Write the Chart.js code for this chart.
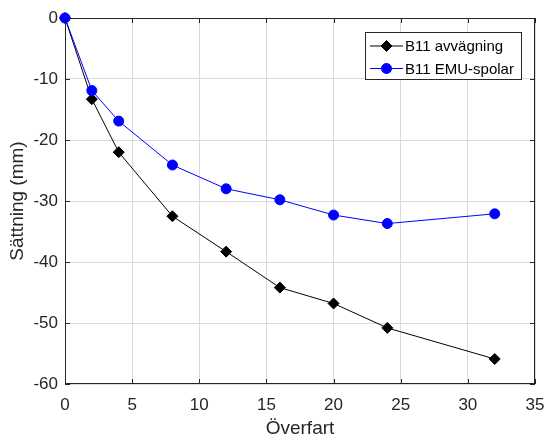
<!DOCTYPE html>
<html>
<head>
<meta charset="utf-8">
<script src="https://cdn.jsdelivr.net/npm/chart.js@4/dist/chart.umd.min.js"></script>
<style>
  html, body { margin: 0; padding: 0; background: #fff; }
  #wrap { width: 548px; height: 436px; }
</style>
</head>
<body>
<div id="wrap"><canvas id="chart" width="548" height="436"></canvas></div>
<script>
// overfart (x) and settlement in mm
const overfart = [0, 2, 4, 8, 12, 16, 20, 24, 32];
const avvagning = [0, -13.3, -22.0, -32.5, -38.3, -44.2, -46.8, -50.8, -55.9];
const emuSpolar = [0, -11.9, -16.9, -24.1, -28.0, -29.8, -32.3, -33.7, -32.1];
const xTicks = [0, 5, 10, 15, 20, 25, 30, 35];
const yTicks = [0, -10, -20, -30, -40, -50, -60];

const toPoints = (ys) => overfart.map((x, i) => ({ x: x, y: ys[i] }));

const axisColor = "#262626";
const FONT = "'Liberation Sans', Arial, sans-serif";

// MATLAB-like box with inward ticks + legend in the upper right
const boxPlugin = {
  id: "box",
  beforeDatasetsDraw(chart) {
    const { ctx, chartArea: a, scales } = chart;
    ctx.save();
    ctx.strokeStyle = axisColor;
    ctx.lineWidth = 1;
    ctx.strokeRect(a.left + 0.5, a.top + 0.5, a.right - a.left - 1, a.bottom - a.top - 1);
    const t = 5;
    ctx.beginPath();
    xTicks.forEach(v => {
      const px = Math.round(scales.x.getPixelForValue(v)) + 0.5;
      ctx.moveTo(px, a.bottom); ctx.lineTo(px, a.bottom - t);
      ctx.moveTo(px, a.top); ctx.lineTo(px, a.top + t);
    });
    yTicks.forEach(v => {
      const py = Math.round(scales.y.getPixelForValue(v)) + 0.5;
      ctx.moveTo(a.left, py); ctx.lineTo(a.left + t, py);
      ctx.moveTo(a.right, py); ctx.lineTo(a.right - t, py);
    });
    ctx.stroke();
    ctx.restore();
  },
  afterDraw(chart) {
    const { ctx } = chart;
    ctx.save();
    // legend
    const lx = 365, ly = 32, lw = 156, lh = 47;
    ctx.fillStyle = "#fff";
    ctx.fillRect(lx, ly, lw, lh);
    ctx.strokeStyle = "#262626";
    ctx.lineWidth = 1;
    ctx.strokeRect(lx + 0.5, ly + 0.5, lw, lh);
    ctx.font = "15px " + FONT;
    ctx.textBaseline = "middle";
    chart.data.datasets.forEach((ds, i) => {
      const cy = ly + 14 + i * 22.5;
      ctx.strokeStyle = ds.borderColor;
      ctx.lineWidth = 1;
      ctx.beginPath();
      ctx.moveTo(lx + 5, cy); ctx.lineTo(lx + 38, cy);
      ctx.stroke();
      ctx.fillStyle = ds.pointBackgroundColor;
      ctx.strokeStyle = ds.pointBorderColor;
      Chart.helpers.drawPoint(ctx, {
        pointStyle: ds.pointStyle, radius: ds.pointRadius, borderWidth: 1
      }, lx + 21.5, cy);
      ctx.fillStyle = "#000";
      ctx.fillText(ds.label, lx + 40, cy + 1);
    });
    ctx.restore();
  }
};

new Chart(document.getElementById("chart"), {
  type: "line",
  data: {
    datasets: [
      {
        label: "B11 avvägning",
        data: toPoints(avvagning),
        borderColor: "#000000",
        backgroundColor: "#000000",
        pointBackgroundColor: "#000000",
        pointBorderColor: "#000000",
        pointStyle: "rectRot",
        pointRadius: 5.5,
        borderWidth: 1,
        clip: false,
        order: 1,
        tension: 0
      },
      {
        label: "B11 EMU-spolar",
        data: toPoints(emuSpolar),
        borderColor: "#0000ff",
        backgroundColor: "#0000ff",
        pointBackgroundColor: "#0000ff",
        pointBorderColor: "#0000ff",
        pointStyle: "circle",
        pointRadius: 5,
        borderWidth: 1,
        clip: false,
        order: 0,
        tension: 0
      }
    ]
  },
  options: {
    responsive: false,
    animation: false,
    layout: { padding: { top: 18, right: 13, left: 0, bottom: 0 } },
    plugins: {
      legend: { display: false },
      tooltip: { enabled: false }
    },
    scales: {
      x: {
        type: "linear",
        min: 0, max: 35,
        afterBuildTicks: (s) => { s.ticks = xTicks.map(v => ({ value: v })); },
        afterFit: (s) => { s.height = 52; s.paddingLeft = 0; s.paddingRight = 0; },
        grid: { color: "#dadada", lineWidth: 1, drawTicks: false },
        border: { display: false },
        ticks: { color: axisColor, font: { family: FONT, size: 17 }, padding: 11, maxRotation: 0 },
        title: { display: true, text: "Överfart", color: axisColor, font: { family: FONT, size: 19, lineHeight: 0.8 }, padding: { top: 0, bottom: 0 } }
      },
      y: {
        min: -60, max: 0,
        afterBuildTicks: (s) => { s.ticks = yTicks.map(v => ({ value: v })); },
        afterFit: (s) => { s.width = 65; s.paddingTop = 0; s.paddingBottom = 0; },
        grid: { color: "#dadada", lineWidth: 1, drawTicks: false },
        border: { display: false },
        ticks: { color: axisColor, font: { family: FONT, size: 17 }, padding: 7 },
        title: { display: true, text: "Sättning (mm)", color: axisColor, font: { family: FONT, size: 19 }, padding: { top: 6, bottom: 0 } }
      }
    }
  },
  plugins: [boxPlugin]
});
</script>
</body>
</html>
